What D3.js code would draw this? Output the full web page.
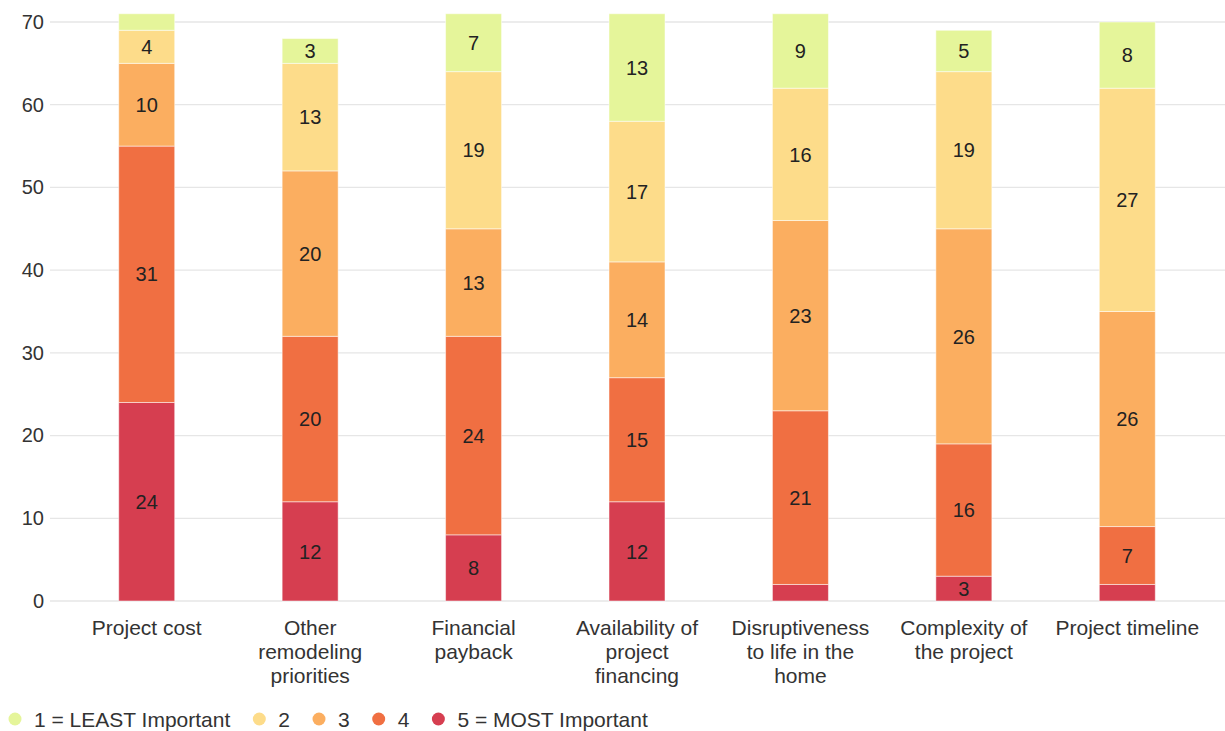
<!DOCTYPE html>
<html>
<head>
<meta charset="utf-8">
<script src="https://cdn.jsdelivr.net/npm/d3@7"></script>
<style>
  html, body { margin: 0; padding: 0; background: #fff; }
  svg { display: block; font-family: "Liberation Sans", Arial, Helvetica, sans-serif; }
</style>
</head>
<body>
<svg id="chart" width="1225" height="731"></svg>
<script>
// Survey: importance of factors when deciding on a remodeling project
const categories = [
  "Project cost",
  "Other remodeling priorities",
  "Financial payback",
  "Availability of project financing",
  "Disruptiveness to life in the home",
  "Complexity of the project",
  "Project timeline"
];

// Stacking order: bottom (5) to top (1)
const seriesNames = ["5 = MOST Important", "4", "3", "2", "1 = LEAST Important"];
const most5  = [24, 12, 8, 12, 2, 3, 2];
const four   = [31, 20, 24, 15, 21, 16, 7];
const three  = [10, 20, 13, 14, 23, 26, 26];
const two    = [4, 13, 19, 17, 16, 19, 27];
const least1 = [2, 3, 7, 13, 9, 5, 8];
const seriesValues = [most5, four, three, two, least1];
const seriesColors = ["#d63e50", "#f06f42", "#fbae60", "#fddc8a", "#e5f59a"];

const yTicks = [0, 10, 20, 30, 40, 50, 60, 70];
const legendOrder = ["1 = LEAST Important", "2", "3", "4", "5 = MOST Important"];

const svg = d3.select("#chart");

const x = d3.scaleBand().domain(categories).range([65, 1209]).paddingInner(0).paddingOuter(0);
const y = d3.scaleLinear().domain([0, 70]).range([601, 22]);
const barW = 56;

// gridlines
svg.append("g").selectAll("line").data(yTicks).join("line")
  .attr("x1", 50).attr("x2", 1225)
  .attr("y1", d => y(d)).attr("y2", d => y(d))
  .attr("stroke", "#e6e6e6").attr("stroke-width", 1.3);

// y axis labels
const yAxis = d3.axisLeft(y).tickValues(yTicks).tickSize(0).tickPadding(0);
svg.append("g").attr("transform", "translate(44,0)").call(yAxis)
  .call(g => g.select(".domain").remove())
  .call(g => g.selectAll("text").attr("font-size", 20).attr("fill", "#333")
    .attr("font-family", "\"Liberation Sans\", Arial, sans-serif"));

// stacked data
const rows = categories.map((c, i) => {
  const r = { category: c };
  seriesNames.forEach((s, k) => r[s] = seriesValues[k][i]);
  return r;
});
const stack = d3.stack().keys(seriesNames)(rows);

const layers = svg.append("g").selectAll("g").data(stack).join("g")
  .attr("fill", (d, k) => seriesColors[k]);

layers.selectAll("rect").data(d => d).join("rect")
  .attr("x", d => x(d.data.category) + x.bandwidth() / 2 - barW / 2)
  .attr("width", barW)
  .attr("y", d => y(d[1]))
  .attr("height", d => y(d[0]) - y(d[1]))
  .attr("stroke", "rgba(255,255,255,0.5)")
  .attr("stroke-width", 1);

// value labels inside segments
layers.selectAll("text").data(d => d.map(p => ({ p, key: d.key }))).join("text")
  .filter(d => y(d.p[0]) - y(d.p[1]) >= 20)
  .attr("x", d => x(d.p.data.category) + x.bandwidth() / 2)
  .attr("y", d => (y(d.p[0]) + y(d.p[1])) / 2)
  .attr("dy", "0.36em")
  .attr("text-anchor", "middle")
  .attr("font-size", 20)
  .attr("fill", "#222")
  .text(d => d.p[1] - d.p[0]);

// category labels, wrapped
function wrapWords(text, maxW, fontSize) {
  const ctx = document.createElement("canvas").getContext("2d");
  ctx.font = fontSize + "px 'Liberation Sans', Arial, sans-serif";
  const words = text.split(" ");
  const lines = [];
  let line = "";
  words.forEach(w => {
    const test = line ? line + " " + w : w;
    if (ctx.measureText(test).width > maxW && line) { lines.push(line); line = w; }
    else line = test;
  });
  if (line) lines.push(line);
  return lines;
}

const xl = svg.append("g");
categories.forEach(c => {
  const lines = wrapWords(c, 152, 21);
  const t = xl.append("text")
    .attr("text-anchor", "middle")
    .attr("font-size", 21)
    .attr("fill", "#333");
  lines.forEach((ln, i) => {
    t.append("tspan")
      .attr("x", x(c) + x.bandwidth() / 2)
      .attr("y", 635 + i * 24)
      .text(ln);
  });
});

// legend
const legend = svg.append("g");
let lx = 15;
legendOrder.forEach(name => {
  const k = seriesNames.indexOf(name);
  legend.append("circle").attr("cx", lx).attr("cy", 719).attr("r", 6.5).attr("fill", seriesColors[k]);
  const t = legend.append("text").attr("x", lx + 19).attr("y", 719).attr("dy", "0.36em")
    .attr("font-size", 21).attr("fill", "#333").text(name);
  lx += t.node().getComputedTextLength() + 19 + 29;
});
</script>
</body>
</html>
